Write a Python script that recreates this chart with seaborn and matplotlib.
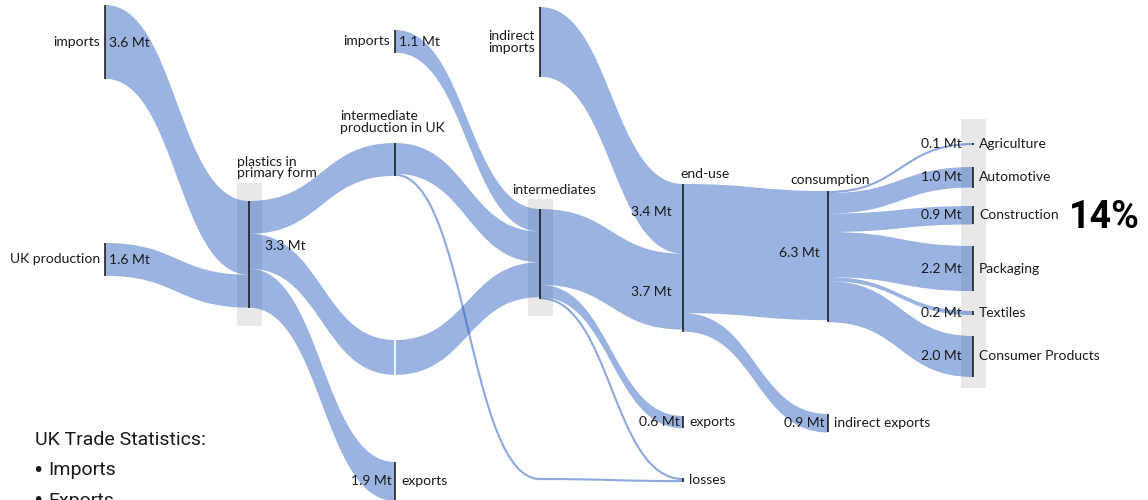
import numpy as np
import pandas as pd
import seaborn as sns
import matplotlib.pyplot as plt
from matplotlib.path import Path
from matplotlib.patches import PathPatch, Rectangle

# ------------------- Data -------------------
node_names = ["imports", "UK production", "plastics in\nprimary form", "imports",
              "intermediate\nproduction in UK", "", "exports", "indirect\nimports",
              "intermediates", "", "end-use", "exports", "losses", "consumption",
              "indirect exports", "Agriculture", "Automotive", "Construction",
              "Packaging", "Textiles", "Consumer Products"]
node_value_text = ["3.6 Mt", "1.6 Mt", "3.3 Mt", "1.1 Mt", "", "", "1.9 Mt", "",
                   "", "", "", "0.6 Mt", "", "6.3 Mt", "0.9 Mt", "0.1 Mt", "1.0 Mt",
                   "0.9 Mt", "2.2 Mt", "0.2 Mt", "2.0 Mt"]

# flows in Mt (source node index -> target node index)
flow_src = [0, 1, 2, 2, 2, 3, 4, 4, 5, 7, 8, 8, 8, 9, 10, 10, 13, 13, 13, 13, 13, 13]
flow_dst = [2, 2, 4, 5, 6, 8, 8, 9, 8, 10, 10, 11, 12, 12, 13, 14, 15, 16, 17, 18, 19, 20]
flow_mt = [3.6, 1.6, 1.6, 1.7, 1.9, 1.1, 1.5, 0.1, 1.7, 3.4, 3.7, 0.6, 0.1, 0.1,
           6.3, 0.9, 0.1, 1.0, 0.9, 2.2, 0.2, 2.0]

legend_title = "UK Trade Statistics:"
legend_items = ["Imports", "Exports"]
share_text = "14%"

# ------------------- Layout -------------------
col_x = [105, 249, 395, 540, 683, 828, 973]
node_col = [0, 0, 1, 2, 2, 2, 2, 3, 3, 3, 4, 4, 4, 5, 5, 6, 6, 6, 6, 6, 6]
node_top = [5, 243, 201, 30, 143, 340, 462, 7, 209, 478, 184, 416, 478, 191, 414,
            143, 167, 206, 246, 311, 336]
# label style: L = name left / value right, R = value left / name right, A = name above
label_style = ["L", "L", "A", "L", "A", "-", "R", "L", "A", "-", "A", "R", "R",
               "A", "R", "R", "R", "R", "R", "R", "R"]
hidden_nodes = [5, 9]
boxes = [([2], 18, 18), ([8], 10, 17), ([15, 16, 17, 18, 19, 20], 24, 11)]
scale = 20.5  # px per Mt

flows = pd.DataFrame({"src": flow_src, "dst": flow_dst, "mt": flow_mt})

sns.set_theme(style="white")
plt.rcParams["font.family"] = ["Lato", "DejaVu Sans"]
band_color = (31 / 255, 87 / 255, 187 / 255)
text_color = "#1a1a1a"

fig = plt.figure(figsize=(11.48, 5.0), dpi=100)
ax = fig.add_axes([0, 0, 1, 1])
ax.set_xlim(0, 1148)
ax.set_ylim(500, 0)
ax.axis("off")

n = len(node_names)
node_x = np.array([col_x[c] for c in node_col], dtype=float)
top = np.array(node_top, dtype=float)
in_sum = flows.groupby("dst")["mt"].sum().reindex(range(n), fill_value=0).values
out_sum = flows.groupby("src")["mt"].sum().reindex(range(n), fill_value=0).values
node_h = np.maximum(in_sum, out_sum) * scale

# grey boxes behind nodes
for members, pad_t, pad_b in boxes:
    y0 = min(top[m] for m in members) - pad_t
    y1 = max(top[m] + node_h[m] for m in members) + pad_b
    x = node_x[members[0]]
    ax.add_patch(Rectangle((x - 12.5, y0), 25, y1 - y0, facecolor="#e8e8e8",
                           edgecolor="none", zorder=1))

# stack flows at each node, sorted by the other end's position
out_off = {}
in_off = {}
for i in range(n):
    outs = flows[flows.src == i].copy()
    outs["key"] = [top[d] for d in outs.dst]
    y = top[i]
    for idx, row in outs.sort_values("key").iterrows():
        out_off[idx] = y
        y += row.mt * scale
    ins = flows[flows.dst == i].copy()
    ins["key"] = [top[s] for s in ins.src]
    y = top[i]
    for idx, row in ins.sort_values("key").iterrows():
        in_off[idx] = y
        y += row.mt * scale


def draw_band(x0, y0, x1, y1, w):
    xm = (x0 + x1) / 2
    if w < 3:
        # thin flows are drawn as a stroke along the centre line
        c = w / 2
        verts = [(x0, y0 + c), (xm, y0 + c), (xm, y1 + c), (x1, y1 + c)]
        codes = [Path.MOVETO, Path.CURVE4, Path.CURVE4, Path.CURVE4]
        ax.add_patch(PathPatch(Path(verts, codes), facecolor="none",
                               edgecolor=band_color, alpha=0.5, lw=max(w, 1.6) * 0.75,
                               zorder=2))
        return
    verts = [(x0, y0), (xm, y0), (xm, y1), (x1, y1),
             (x1, y1 + w), (xm, y1 + w), (xm, y0 + w), (x0, y0 + w), (x0, y0)]
    codes = [Path.MOVETO, Path.CURVE4, Path.CURVE4, Path.CURVE4,
             Path.LINETO, Path.CURVE4, Path.CURVE4, Path.CURVE4, Path.CLOSEPOLY]
    ax.add_patch(PathPatch(Path(verts, codes), facecolor=band_color, alpha=0.45,
                           edgecolor="none", zorder=2))


for idx in flows.index:
    s, d, mt = int(flows.at[idx, "src"]), int(flows.at[idx, "dst"]), flows.at[idx, "mt"]
    draw_band(node_x[s], out_off[idx], node_x[d], in_off[idx], mt * scale)

# node bars
for i in range(n):
    if i in hidden_nodes:
        continue
    ax.plot([node_x[i], node_x[i]], [top[i], top[i] + node_h[i]], color="#111111",
            lw=1.1, solid_capstyle="butt", zorder=3)
# seam on the pass-through node
ax.plot([node_x[5], node_x[5]], [top[5], top[5] + node_h[5]], color="white",
        lw=1.2, zorder=3)

# ------------------- Labels -------------------
fs = 10
above_pos = {2: (-12, -22, "left"), 4: (-55, -9, "left"), 8: (-28, -13, "left"),
             10: (-3, -4, "left"), 13: (2, -5, "center")}
for i in range(n):
    style = label_style[i]
    x, mid = node_x[i], top[i] + node_h[i] / 2
    name, val = node_names[i], node_value_text[i]
    if style == "L":
        ax.text(x - 5, mid, name, ha="right", va="center", fontsize=fs,
                color=text_color, linespacing=0.95)
        if val:
            ax.text(x + 4, mid + 1, val, ha="left", va="center", fontsize=fs,
                    color=text_color)
    elif style == "R":
        gap = 11 if node_col[i] == 6 else 3
        if val:
            ax.text(x - gap, mid, val, ha="right", va="center", fontsize=fs,
                    color=text_color)
        ax.text(x + 6, mid, name, ha="left", va="center", fontsize=fs,
                color=text_color)
    elif style == "A":
        dx, dy, ha = above_pos[i]
        ax.text(x + dx, top[i] + dy, name, ha=ha, va="bottom", fontsize=fs,
                color=text_color, linespacing=0.95)

# special value labels
ax.text(node_x[2] + 16, top[2] + 45, node_value_text[2], ha="left", va="center",
        fontsize=fs, color=text_color)
ax.text(node_x[13] - 8, top[13] + node_h[13] / 2 - 4, node_value_text[13],
        ha="right", va="center", fontsize=fs, color=text_color)
flow_label_shift = {9: -7, 10: 0}
for idx in flows.index[flows.dst == 10]:
    mt = flows.at[idx, "mt"]
    ymid = in_off[idx] + mt * scale / 2 + flow_label_shift[idx]
    ax.text(node_x[10] - 11, ymid, f"{mt:.1f} Mt", ha="right", va="center",
            fontsize=fs, color=text_color)

ax.text(1104, 217, share_text, ha="center", va="center", fontsize=27,
        fontweight="bold", family=["Roboto", "DejaVu Sans"], color="black")

legend_font = ["Roboto", "DejaVu Sans"]
ax.text(35, 440, legend_title, ha="left", va="center", fontsize=14,
        family=legend_font, color=text_color)
for k, item in enumerate(legend_items):
    y = 470 + 31 * k
    ax.text(33, y + 1, "\u2022", ha="left", va="center", fontsize=20,
            family=legend_font, color=text_color)
    ax.text(48, y, item, ha="left", va="center", fontsize=14,
            family=legend_font, color=text_color)

fig.savefig("out.png", dpi=100)
